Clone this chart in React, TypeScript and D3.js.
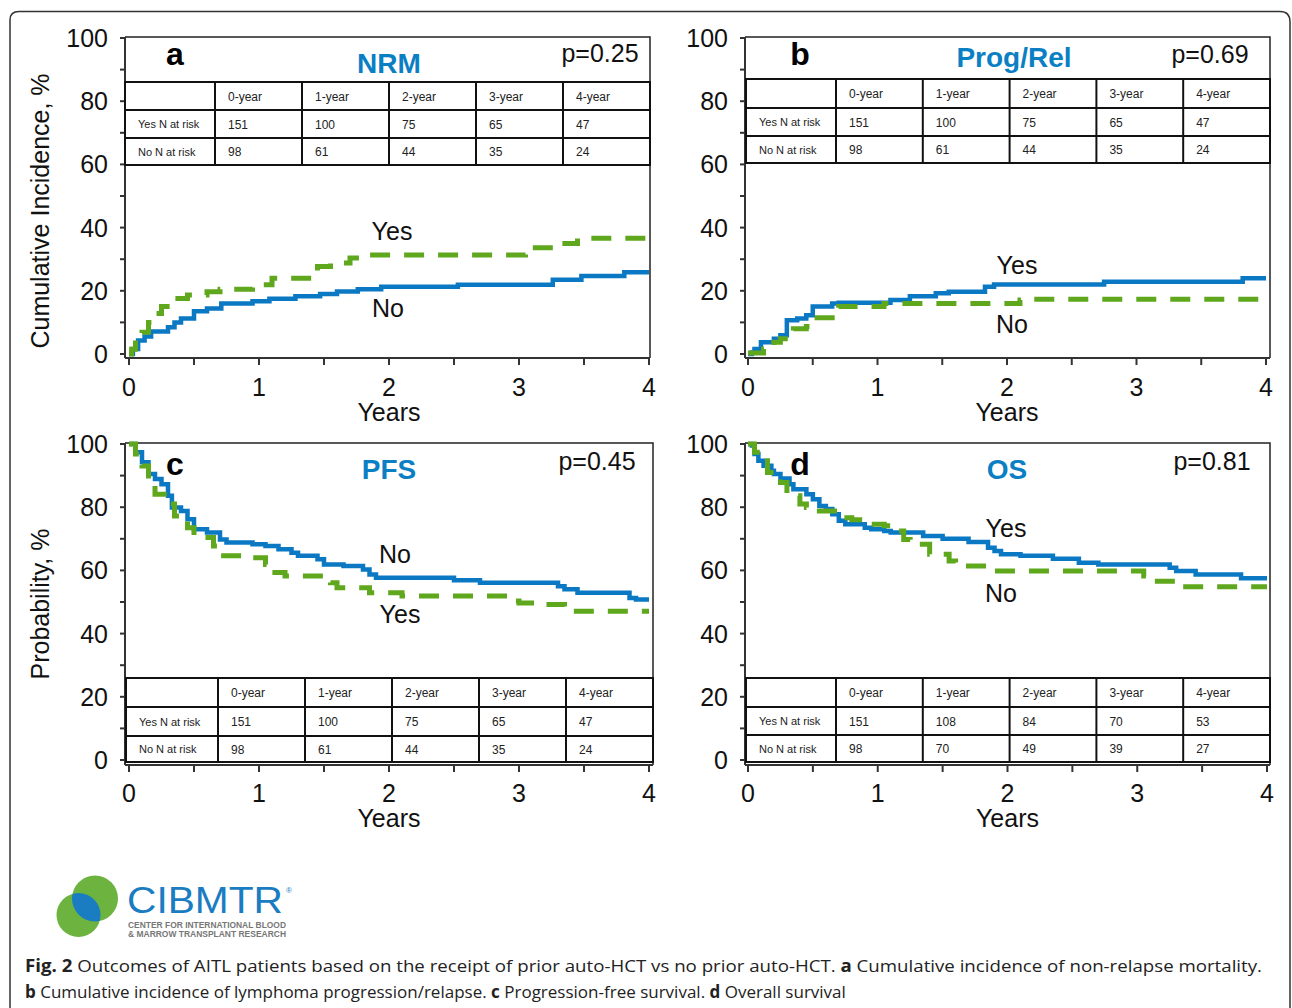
import React from "react";
import * as d3 from "d3";

// ---------------- DATA ----------------
const xTicks = [0, 1, 2, 3, 4];
const xMinorTicks = [0.5, 1.5, 2.5, 3.5];
const yTicks = [0, 20, 40, 60, 80, 100];
const yMinorTicks = [10, 30, 50, 70, 90];
const tableHeaders = ["0-year", "1-year", "2-year", "3-year", "4-year"];
const rowLabels = ["Yes N at risk", "No N at risk"];

const nrmYesAtRisk = [151, 100, 75, 65, 47];
const nrmNoAtRisk = [98, 61, 44, 35, 24];
const relYesAtRisk = [151, 100, 75, 65, 47];
const relNoAtRisk = [98, 61, 44, 35, 24];
const pfsYesAtRisk = [151, 100, 75, 65, 47];
const pfsNoAtRisk = [98, 61, 44, 35, 24];
const osYesAtRisk = [151, 108, 84, 70, 53];
const osNoAtRisk = [98, 70, 49, 39, 27];

type Pt = [number, number];

// [years, %] step points
const nrmYes: Pt[] = [[0, 0], [0.02, 1.5], [0.05, 4.3], [0.1, 6.9], [0.15, 10], [0.2, 12.8], [0.25, 15], [0.35, 17.6], [0.45, 18.7], [0.6, 19.7], [0.7, 20.5], [0.95, 21.9], [1.1, 24], [1.45, 27.7], [1.55, 28.8], [1.7, 30.4], [1.85, 31.3], [3.05, 32], [3.1, 33.6], [3.3, 35], [3.45, 36.6], [4, 36.6]];
const nrmNo: Pt[] = [[0, 0], [0.03, 1.6], [0.07, 4.3], [0.12, 5.5], [0.17, 7.1], [0.3, 8.5], [0.35, 10], [0.4, 11.2], [0.5, 13.5], [0.6, 14.4], [0.71, 16], [0.95, 16.7], [1.08, 17.5], [1.28, 18.3], [1.47, 19], [1.6, 19.8], [1.76, 20.5], [1.94, 21.3], [2.53, 21.9], [3.26, 23.5], [3.48, 24.7], [3.81, 25.9], [4, 25.9]];
const relYes: Pt[] = [[0, 0], [0.03, 0.5], [0.05, 1.6], [0.1, 3.7], [0.2, 4.8], [0.25, 5.9], [0.3, 10.7], [0.38, 11.2], [0.45, 12.3], [0.5, 15], [0.65, 16], [0.7, 16.2], [1.1, 17.1], [1.25, 18.3], [1.45, 19.2], [1.55, 19.7], [1.83, 21.3], [1.9, 22], [2.75, 22.9], [3.82, 24], [4, 24]];
const relNo: Pt[] = [[0, 0.3], [0.12, 1.6], [0.2, 3.7], [0.25, 4.8], [0.35, 8], [0.45, 8.7], [0.5, 11.5], [0.65, 12.3], [0.7, 15], [1.05, 16], [2.1, 17.1], [2.15, 17.3], [4, 17.3]];
const pfsNo: Pt[] = [[0, 100], [0.05, 97.4], [0.1, 94.2], [0.15, 90.5], [0.2, 88.9], [0.25, 87.3], [0.3, 83.6], [0.33, 79.9], [0.4, 78.8], [0.45, 76.2], [0.5, 73], [0.6, 72], [0.7, 69.8], [0.75, 68.8], [0.95, 68.3], [1.05, 67.7], [1.15, 66.7], [1.25, 65.6], [1.3, 64.6], [1.45, 63.5], [1.5, 61.9], [1.65, 61.4], [1.8, 60.3], [1.85, 58.7], [1.9, 57.7], [2.5, 56.9], [2.7, 56.1], [3.3, 55], [3.35, 54], [3.45, 52.9], [3.85, 51.3], [3.9, 50.8], [4, 50.8]];
const pfsYes: Pt[] = [[0, 100], [0.05, 96.8], [0.1, 93], [0.15, 86.8], [0.2, 84.1], [0.3, 81], [0.35, 77.2], [0.4, 76.2], [0.45, 73.5], [0.5, 70.4], [0.65, 67.7], [0.7, 64.6], [0.9, 64], [1.05, 61.9], [1.1, 59.3], [1.2, 58.2], [1.55, 56.1], [1.6, 54.5], [1.85, 52.9], [2.1, 51.9], [2.95, 50.3], [3.0, 49.7], [3.15, 49.2], [3.35, 47.1], [4, 47.1]];
const osYes: Pt[] = [[0, 100], [0.03, 99.5], [0.05, 96.8], [0.08, 94.7], [0.12, 93.1], [0.18, 91.5], [0.2, 90.5], [0.25, 89.1], [0.32, 87.3], [0.35, 85.7], [0.45, 84.1], [0.5, 82.5], [0.55, 80.4], [0.6, 79.4], [0.65, 77.8], [0.7, 75.7], [0.75, 74.6], [0.9, 73.5], [0.95, 73], [1.05, 72.5], [1.1, 72], [1.35, 70.9], [1.5, 70], [1.7, 69], [1.85, 67.2], [1.9, 66.1], [1.95, 65.1], [2.1, 64.6], [2.35, 63.7], [2.55, 62.4], [2.7, 61.9], [3.25, 60.8], [3.3, 59.8], [3.45, 58.7], [3.8, 57.5], [4, 57.5]];
const osNo: Pt[] = [[0, 100], [0.05, 97.4], [0.1, 94.7], [0.15, 91], [0.25, 87.8], [0.3, 83.6], [0.4, 81], [0.45, 79.9], [0.55, 78.8], [0.7, 76.7], [0.8, 76], [0.95, 74.6], [1.05, 74.1], [1.1, 72.5], [1.2, 69.8], [1.25, 68.3], [1.4, 65.1], [1.55, 63], [1.6, 61.4], [1.9, 59.8], [3.05, 58.2], [3.1, 56.6], [3.3, 56.1], [3.35, 54.8], [4, 54.8]];

// ---------------- STYLE / LAYOUT ----------------
const BLUE = "#0a78c2";
const GREEN = "#5fa81e";
const TITLE_BLUE = "#0b7fc4";
const FONT = "'Liberation Sans', Arial, Helvetica, sans-serif";
const CAP_FONT = "'Open Sans', 'Liberation Sans', sans-serif";

type PanelCfg = {
  letter: string; title: string; p: string;
  solid: Pt[]; dashed: Pt[];
  yesRisk: number[]; noRisk: number[];
  axisX: number; frameTop: number; frameRight: number; axisY: number;
  xr: [number, number]; yr: [number, number];
  table: { left: number; right: number; rows: number[]; firstCol: number };
  letterPos: Pt; titlePos: Pt; pPos: Pt;
  labels: { text: string; pos: Pt }[];
  tickBase: number; yearsBase: number;
};

const panels: PanelCfg[] = [
  {
    letter: "a", title: "NRM", p: "p=0.25", solid: nrmNo, dashed: nrmYes,
    yesRisk: nrmYesAtRisk, noRisk: nrmNoAtRisk,
    axisX: 125, frameTop: 37, frameRight: 650, axisY: 358, xr: [129, 649], yr: [354, 38],
    table: { left: 125, right: 650, rows: [82, 110, 138, 165], firstCol: 215 },
    letterPos: [175, 65], titlePos: [389, 73], pPos: [600, 62],
    labels: [{ text: "Yes", pos: [392, 240] }, { text: "No", pos: [388, 317] }],
    tickBase: 396, yearsBase: 421,
  },
  {
    letter: "b", title: "Prog/Rel", p: "p=0.69", solid: relYes, dashed: relNo,
    yesRisk: relYesAtRisk, noRisk: relNoAtRisk,
    axisX: 745, frameTop: 37, frameRight: 1270, axisY: 358, xr: [748, 1266], yr: [354, 38],
    table: { left: 746, right: 1270, rows: [79, 108, 136, 163], firstCol: 836 },
    letterPos: [800, 65], titlePos: [1014, 67], pPos: [1210, 63],
    labels: [{ text: "Yes", pos: [1017, 274] }, { text: "No", pos: [1012, 333] }],
    tickBase: 396, yearsBase: 421,
  },
  {
    letter: "c", title: "PFS", p: "p=0.45", solid: pfsNo, dashed: pfsYes,
    yesRisk: pfsYesAtRisk, noRisk: pfsNoAtRisk,
    axisX: 125, frameTop: 443, frameRight: 653, axisY: 765, xr: [129, 649], yr: [760, 444],
    table: { left: 126, right: 653, rows: [678, 707, 736, 762], firstCol: 218 },
    letterPos: [175, 475], titlePos: [389, 479], pPos: [597, 470],
    labels: [{ text: "No", pos: [395, 563] }, { text: "Yes", pos: [400, 623] }],
    tickBase: 802, yearsBase: 827,
  },
  {
    letter: "d", title: "OS", p: "p=0.81", solid: osYes, dashed: osNo,
    yesRisk: osYesAtRisk, noRisk: osNoAtRisk,
    axisX: 745, frameTop: 443, frameRight: 1270, axisY: 765, xr: [748, 1267], yr: [760, 444],
    table: { left: 746, right: 1270, rows: [678, 707, 735, 762], firstCol: 836 },
    letterPos: [800, 475], titlePos: [1007, 479], pPos: [1212, 470],
    labels: [{ text: "Yes", pos: [1006, 537] }, { text: "No", pos: [1001, 602] }],
    tickBase: 802, yearsBase: 827,
  },
];

function Panel({ cfg }: { cfg: PanelCfg }) {
  const x = d3.scaleLinear().domain([0, 4]).range(cfg.xr);
  const y = d3.scaleLinear().domain([0, 100]).range(cfg.yr);
  const line = d3.line<Pt>().x((d) => x(d[0])).y((d) => y(d[1])).curve(d3.curveStepAfter);
  const t = cfg.table;
  const colW = (t.right - t.firstCol) / tableHeaders.length;
  const colEdges = [t.left, t.firstCol, ...tableHeaders.map((_, i) => t.firstCol + colW * (i + 1))];
  const rowMid = (i: number) => (t.rows[i] + t.rows[i + 1]) / 2;
  const rows = [tableHeaders, cfg.yesRisk.map(String), cfg.noRisk.map(String)];
  return (
    <g>
      <path d={`M${cfg.axisX},${cfg.frameTop}H${cfg.frameRight}V${cfg.axisY}`} fill="none" stroke="#222" strokeWidth={1.5} />
      <path d={line(cfg.solid) || ""} fill="none" stroke={BLUE} strokeWidth={4.5} />
      <path d={line(cfg.dashed) || ""} fill="none" stroke={GREEN} strokeWidth={5} strokeDasharray="20,14" />
      <line x1={cfg.axisX} x2={cfg.axisX} y1={cfg.frameTop} y2={cfg.axisY} stroke="#333" strokeWidth={2} />
      <line x1={cfg.axisX} x2={cfg.frameRight} y1={cfg.axisY} y2={cfg.axisY} stroke="#333" strokeWidth={2} />
      {[...xTicks, ...xMinorTicks].map((v) => (
        <line key={"xt" + v} x1={x(v)} x2={x(v)} y1={cfg.axisY} y2={cfg.axisY + 7} stroke="#333" strokeWidth={2} />
      ))}
      {[...yTicks, ...yMinorTicks].map((v) => (
        <line key={"yt" + v} x1={cfg.axisX - 5} x2={cfg.axisX} y1={y(v)} y2={y(v)} stroke="#333" strokeWidth={2} />
      ))}
      {xTicks.map((v) => (
        <text key={"xl" + v} x={x(v)} y={cfg.tickBase} textAnchor="middle" fontSize={25} fontFamily={FONT} fill="#111">{v}</text>
      ))}
      {yTicks.map((v) => (
        <text key={"yl" + v} x={cfg.axisX - 17} y={y(v) + 9} textAnchor="end" fontSize={25} fontFamily={FONT} fill="#111">{v}</text>
      ))}
      <text x={(cfg.xr[0] + cfg.xr[1]) / 2} y={cfg.yearsBase} textAnchor="middle" fontSize={25} fontFamily={FONT} fill="#111">Years</text>
      <rect x={t.left} y={t.rows[0]} width={t.right - t.left} height={t.rows[3] - t.rows[0]} fill="#fff" stroke="#111" strokeWidth={2} />
      {t.rows.slice(1, 3).map((r) => (
        <line key={"r" + r} x1={t.left} x2={t.right} y1={r} y2={r} stroke="#111" strokeWidth={2} />
      ))}
      {colEdges.slice(1, 6).map((c) => (
        <line key={"c" + c} x1={c} x2={c} y1={t.rows[0]} y2={t.rows[3]} stroke="#111" strokeWidth={2} />
      ))}
      {rowLabels.map((lab, i) => (
        <text key={lab} x={t.left + 13} y={rowMid(i + 1) + 4} fontSize={11} fontFamily={FONT} fill="#222">{lab}</text>
      ))}
      {rows.map((row, ri) =>
        row.map((v, ci) => (
          <text key={ri + "-" + ci} x={colEdges[ci + 1] + 13} y={rowMid(ri) + 4.5} fontSize={12} fontFamily={FONT} fill="#222">{v}</text>
        ))
      )}
      <text x={cfg.letterPos[0]} y={cfg.letterPos[1]} textAnchor="middle" fontSize={32} fontWeight="bold" fontFamily={FONT} fill="#000">{cfg.letter}</text>
      <text x={cfg.titlePos[0]} y={cfg.titlePos[1]} textAnchor="middle" fontSize={28} fontWeight="bold" fontFamily={FONT} fill={TITLE_BLUE}>{cfg.title}</text>
      <text x={cfg.pPos[0]} y={cfg.pPos[1]} textAnchor="middle" fontSize={25} fontFamily={FONT} fill="#111">{cfg.p}</text>
      {cfg.labels.map((l) => (
        <text key={l.text} x={l.pos[0]} y={l.pos[1]} textAnchor="middle" fontSize={25} fontFamily={FONT} fill="#111">{l.text}</text>
      ))}
    </g>
  );
}

export default function App() {
  return (
    <div style={{ position: "absolute", left: 0, top: 0 }}>
      <svg width={1292} height={1008} viewBox="0 0 1292 1008" style={{ display: "block", background: "#fff" }}>
        <rect width={1292} height={1008} fill="#fff" />
        <path d="M10,1010V20Q10,11.5 19,11.5H1280Q1290,11.5 1290,22V1010" fill="none" stroke="#333" strokeWidth={1.5} />
        {panels.map((p) => <Panel key={p.letter} cfg={p} />)}
        <text transform="translate(49,211) rotate(-90)" textAnchor="middle" fontSize={25} fontFamily={FONT} fill="#111">Cumulative Incidence, %</text>
        <text transform="translate(49,604) rotate(-90)" textAnchor="middle" fontSize={25} fontFamily={FONT} fill="#111">Probability, %</text>
        <defs>
          <clipPath id="lensClip">
            <circle cx={78.5} cy={915} r={22} />
          </clipPath>
        </defs>
        <circle cx={78.5} cy={915} r={22} fill="#6cb33f" />
        <circle cx={95} cy={898.5} r={23} fill="#6cb33f" />
        <circle cx={95} cy={898.5} r={23} fill="#1a7cc1" clipPath="url(#lensClip)" />
        <text x={127} y={913} fontSize={36} fontFamily={FONT} fill="#1a7cc1" textLength={156} lengthAdjust="spacingAndGlyphs">CIBMTR</text>
        <text x={286} y={893} fontSize={8} fontFamily={FONT} fill="#1a7cc1">®</text>
        <text x={128} y={927.5} fontSize={8.5} fontWeight="bold" fontFamily={FONT} fill="#777" textLength={158} lengthAdjust="spacingAndGlyphs">CENTER FOR INTERNATIONAL BLOOD</text>
        <text x={128} y={936.5} fontSize={8.5} fontWeight="bold" fontFamily={FONT} fill="#777" textLength={158} lengthAdjust="spacingAndGlyphs">&amp; MARROW TRANSPLANT RESEARCH</text>
        <text x={25} y={972} fontSize={17} fontFamily={CAP_FONT} fill="#222" textLength={1237} lengthAdjust="spacingAndGlyphs">
          <tspan fontWeight="bold">Fig. 2</tspan> Outcomes of AITL patients based on the receipt of prior auto-HCT vs no prior auto-HCT. <tspan fontWeight="bold">a</tspan> Cumulative incidence of non-relapse mortality.
        </text>
        <text x={25} y={998} fontSize={17} fontFamily={CAP_FONT} fill="#222">
          <tspan fontWeight="bold">b</tspan> Cumulative incidence of lymphoma progression/relapse. <tspan fontWeight="bold">c</tspan> Progression-free survival. <tspan fontWeight="bold">d</tspan> Overall survival
        </text>
      </svg>
    </div>
  );
}
